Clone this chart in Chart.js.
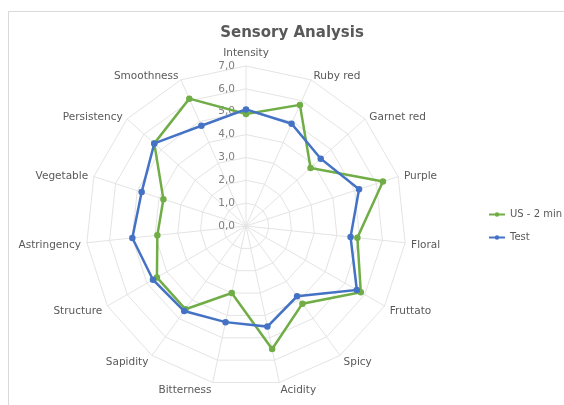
<!DOCTYPE html>
<html>
<head>
<meta charset="utf-8">
<script src="https://cdn.jsdelivr.net/npm/chart.js@4.4.0/dist/chart.umd.min.js"></script>
<style>
  html, body { margin: 0; padding: 0; background: #fff; }
</style>
</head>
<body>
<canvas id="myChart" width="564" height="405"></canvas>
<script>
var categorias = ["Intensity", "Ruby red", "Garnet red", "Purple", "Floral", "Fruttato", "Spicy",
  "Acidity", "Bitterness", "Sapidity", "Structure", "Astringency", "Vegetable", "Persistency", "Smoothness"];
var valoresUS = [4.9, 5.8, 3.8, 6.3, 4.9, 5.8, 4.2, 5.5, 3.0, 4.5, 4.5, 3.9, 3.8, 5.4, 6.1];
var valoresTest = [5.1, 4.9, 4.4, 5.2, 4.6, 5.6, 3.8, 4.5, 4.3, 4.6, 4.7, 5.0, 4.8, 5.4, 4.8];
var serieNomes = ["US - 2 min", "Test"];
var serieCores = ["#70ad47", "#4472c4"];
var tickValores = [0, 1, 2, 3, 4, 5, 6, 7];
var tickLabels = ["0,0", "1,0", "2,0", "3,0", "4,0", "5,0", "6,0", "7,0"];
var titulo = "Sensory Analysis";

var fonte = '"DejaVu Sans", sans-serif';

// marcador da legenda: linha com um ponto no meio
function marcador(cor) {
  var c = document.createElement("canvas");
  c.width = 16;
  c.height = 7;
  var g = c.getContext("2d");
  g.strokeStyle = cor;
  g.lineWidth = 2;
  g.beginPath();
  g.moveTo(0, 3.5);
  g.lineTo(16, 3.5);
  g.stroke();
  g.fillStyle = cor;
  g.beginPath();
  g.arc(8, 3.5, 2.2, 0, Math.PI * 2);
  g.fill();
  return c;
}

var textos = {
  id: "textos",
  beforeDraw: function (chart) {
    var ctx = chart.ctx;
    ctx.save();
    ctx.fillStyle = "#ffffff";
    ctx.fillRect(0, 0, chart.width, chart.height);
    ctx.strokeStyle = "#d9d9d9";
    ctx.lineWidth = 1;
    ctx.strokeRect(8.5, 11.5, 700, 500);
    ctx.restore();
  },
  beforeDatasetsDraw: function (chart) {
    var ctx = chart.ctx;
    var scale = chart.scales.r;
    ctx.save();
    // valores do eixo, a esquerda da linha vertical
    ctx.font = "10.5px " + fonte;
    ctx.fillStyle = "#7f7f7f";
    ctx.textAlign = "right";
    ctx.textBaseline = "middle";
    for (var i = 0; i < tickValores.length; i++) {
      var d = scale.getDistanceFromCenterForValue(tickValores[i]);
      ctx.fillText(tickLabels[i], scale.xCenter - 11, scale.yCenter - d);
    }
    // nomes das categorias
    ctx.fillStyle = "#595959";
    for (var j = 0; j < categorias.length; j++) {
      var p = scale.getPointPosition(j, scale.drawingArea + 6);
      var s = Math.cos(p.angle);
      if (s > 0.01) {
        ctx.textAlign = "left";
      } else if (s < -0.01) {
        ctx.textAlign = "right";
      } else {
        ctx.textAlign = "center";
      }
      var y = p.y + 2;
      if (j === 0) y = p.y - 7;
      ctx.fillText(categorias[j], p.x, y);
    }
    ctx.restore();
  },
  afterDraw: function (chart) {
    var ctx = chart.ctx;
    ctx.save();
    ctx.font = "bold 15px " + fonte;
    ctx.fillStyle = "#595959";
    ctx.textAlign = "center";
    ctx.textBaseline = "middle";
    ctx.fillText(titulo, 292, 33);
    ctx.restore();
  }
};

new Chart("myChart", {
  type: "radar",
  data: {
    labels: categorias,
    datasets: [
      {
        label: serieNomes[0],
        data: valoresUS,
        borderColor: serieCores[0],
        backgroundColor: serieCores[0],
        pointBackgroundColor: serieCores[0],
        pointBorderColor: serieCores[0],
        borderWidth: 2.5,
        pointRadius: 2,
        fill: false,
        order: 1
      },
      {
        label: serieNomes[1],
        data: valoresTest,
        borderColor: serieCores[1],
        backgroundColor: serieCores[1],
        pointBackgroundColor: serieCores[1],
        pointBorderColor: serieCores[1],
        borderWidth: 2.5,
        pointRadius: 2,
        fill: false,
        order: 0
      }
    ]
  },
  options: {
    responsive: false,
    animation: false,
    layout: { padding: { left: 16, right: 0, top: 66, bottom: 19 } },
    scales: {
      r: {
        min: 0,
        max: 7,
        ticks: { display: false, stepSize: 1 },
        grid: { color: "#e4e4e4", lineWidth: 1 },
        angleLines: { color: "#e4e4e4", lineWidth: 1 },
        pointLabels: { display: false }
      }
    },
    plugins: {
      title: { display: false },
      tooltip: { enabled: false },
      legend: {
        position: "right",
        maxWidth: 88,
        labels: {
          usePointStyle: true,
          pointStyleWidth: 16,
          padding: 13,
          color: "#595959",
          font: { family: fonte, size: 10 },
          sort: function (a, b) { return a.datasetIndex - b.datasetIndex; },
          generateLabels: function (chart) {
            var itens = Chart.defaults.plugins.legend.labels.generateLabels(chart);
            itens.forEach(function (item) {
              item.pointStyle = marcador(serieCores[item.datasetIndex]);
            });
            return itens;
          }
        }
      }
    }
  },
  plugins: [textos]
});
</script>
</body>
</html>
